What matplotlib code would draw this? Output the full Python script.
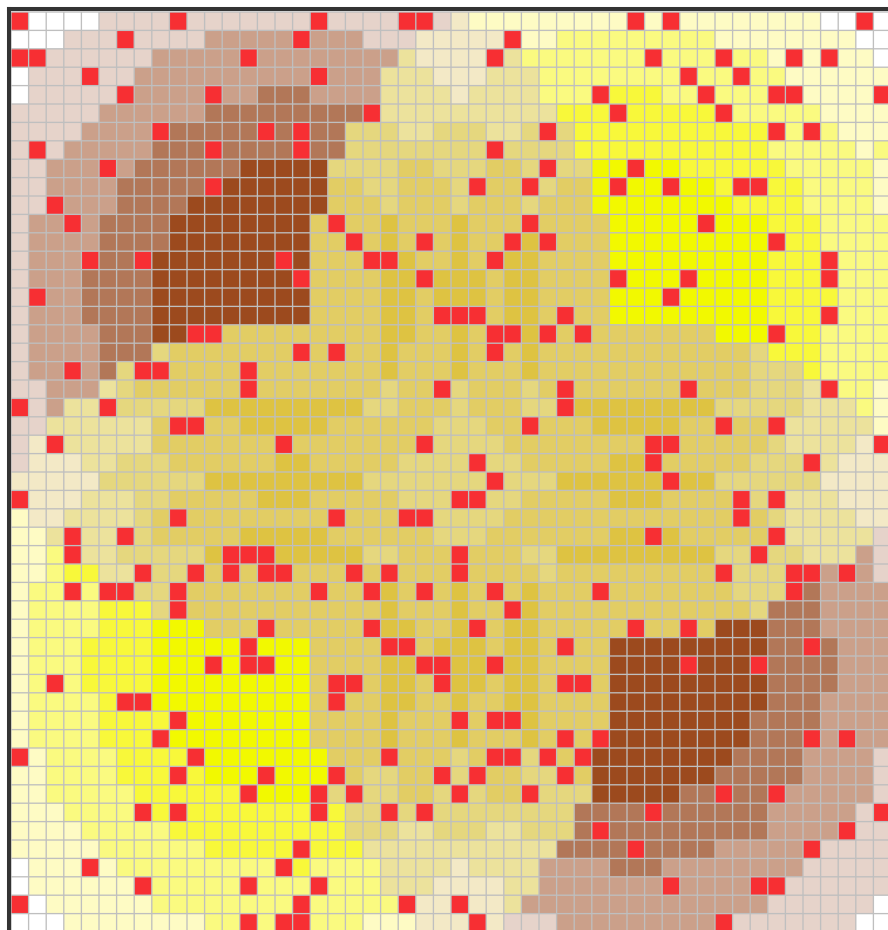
import numpy as np
import matplotlib
matplotlib.use("Agg")
import matplotlib.pyplot as plt
from matplotlib.colors import ListedColormap, BoundaryNorm

# level codes, one per cell
codes = "WpmnBaebcdfghiR"
colors = ["#FFFFFF", "#E6D3CA", "#CBA08A", "#B27758", "#9C4A1E",
          "#FEFBC4", "#F3E9C6", "#FAFA80", "#F8F83A", "#F2F900",
          "#ECE29C", "#E5D77E", "#E2CD64", "#DEC342", "#F72F33"]

rows = [
"R WWWW pppp R ppppppp R pppp RR p e aaaaaaaaa R a R aaaaaaaa WW R W",
"WWW ppp R pppp mmmmm R mmm ppp eeeee R aa bbbbbbbbb aaaaaaaa WW",
"RR pppppp mmmmm R mmmmmmmm f eeee R f bbbbbbb R bbb R bb a R a R aa W",
"W ppp R pp mmmmmmmmmm R mmm fff eee fff bbbbbbbb R bb R bb aaaaaa",
"W ppppp R mmmm R mm nnn mmmm ffff e ffff bbb R ccc bb R bbb RR aaaa R",
"ppppp mmmmmm nnnnnn nnn R ffffffffff ccc R ccccc R bbbbb aaaa",
"pppp mmmm R nnnnn R n R nn ggg ff ggg ff g R g ccccccccccc R b R b aaa",
"p R p mmmmm nnn R nnnn R nn gggggggg R gggg ccccccccccc bbbbb a b",
"pp mmm R m nnnnnn BBBB B gggg hh ggg hh g R gg dd R dd ccccc c bbbbb a",
"pp mmmm nnnnn R BBBBB B hh gg hhh g R hh R g hh d R dd R dd c RR cc bbbb a",
"pp R mmm nnnn BBBBBBB B hhh g hhh g hhh g hhh d ddddddd cccc bbbb a",
"p mm R m nnnn BBBBBBBB h R hh i hhh i hhh R hhh h ddddd R ddd ccc bbbb",
"p mmmm nnnn BBBBBBBB hh R h i h R h i hh R i R hhh ddddddddd R cc bbbb",
"p mmm R nn R BBBBBBB R B hhh RR i hh i h R ii hhhh ddddddddd ccc R bbb",
"p mmm nnnn BBBBBBBB R hhhh ii R iii h ii hhhh R ddd R dddd ccc R bbb",
"p R mm nnnn BBBBBBBBB hhhh ii h iii h ii hhhh ddd R ddddd ccc c bbb",
"p mmm nnnn BBBBBBBBB hhhh ii h RRR h ii h R hh ddddddddd ccc R bbb",
"p mmmm nnn BB RR hhhhhhhhh ii hh i h RR i R h R hhhhhhh ddd R cc bbbb",
"p mmmm nnn g hhhhhhh R h R hh i hhh i h R h i hhhhhhhhhhhh g ccc bbbb",
"p mm R m n g RR hhhh R hhhhhhh i hhh i hhh i hhhhhhhhhhhh ggg c bbbb",
"pp mmm f g hhhhhh R hhhhhhh g hh R g hhh g h R hhhhhh R hhh ggg f R bb a",
"R p m ff R ggggg iiiiiiiii gg hhh g hhh gg R iiiiiiii ggggg fff b a",
"pp ffffff h RR hh iiiii hhhhhh ggg hh R hhh iiiii hh R hh R fffff a",
"p e R fffff hhhhhhh R hhhhhhh R gggg hhhhhhhh RR hhhhh g ffff e R",
"p eee ff ggg hhhhhh ii hhhhh gggg R gg hhhhh ii R hhhhh ggg R f eee",
"eeeee gggggg iiiiiiiii ggggggg R ggg iiiiii R ii gggggg eeee",
"R eee fff gg hhhhh iii hhhhh ggg RR gg hhhhh iii hhhh R g R fff eee",
"a ee ffff g h R hhhhhhhh R hhh RR gggg hhhhhhhhhhhhh R h g ffff ee",
"aa f R ff R g hhhhh iiiii hhhhhh ggg hhhhhhh ii R i hhhhh R fffff p",
"aa b R ff ggggg i RRR iiiii gg hhh R hhh gg iiiiiiiii gg R gg fff m p",
"aa b cc ff R gg R h R h RR hhh R h R hhh R hhhh g hhhhhhhhh R ggg RR m R m p",
"a bb R b RR gg R hhhhhhh R hh R i h R h i h R h i hhh R hhhhhhh ggg R n mmmm",
"a bbbb ccc g R hhhhhhhhhhh i hhh i hh R i hhhhhhhhhhhh g nnn mmmm",
"a bbbb ccc ddd hhh R hhhhh R ii hh i R h ii hhhhh R hh R h BBB nnn mmmm",
"a bbb cccc ddddd R ddd hhhh RR h iii h ii h R hh BBBBBBBBB nn R n mmm",
"a bbb cccc ddd R d RR dd hhhh ii RR ii R ii hhhh BBBB R BBB R nnnn mmm",
"a b R b cccc ddddddddd h RR h ii h R ii h ii h RR h BBBBBBBBB nnnn mmm",
"a bbbb c RR ddddddddd h R hh ii hh i hh ii hhhh BBBBBBBBB nnn mmmm",
"a bbbb cccc R ddddddd hhhh i hhh R h RR i hhhh BBBBBBBB nnnn mmmm",
"a bbbb ccc R dddddddd hhhh i hhh i hhh i h R h R BBBBBBBB nnn R m R mm",
"R a bbbb cccc R ddddddd hhh R hhh g h RR g R h R BBBBBBBB nnnn mmmm p",
"aa bbbb ccc R c ddd R ddd R h gg hh R g R hh gg R h BBBBBBB nnnnn mmmm p",
"aa bbbbb cccccc R ddd R g R gg hh g R g hh R ggg BBBBB nn R nn R mmmmm p",
"aaa bbbb R c R ccccccc R c gg R g R gggggggg nnnn R nnnnnn mmmmm p R",
"aaaa bbbbb cccccccccc ggg ff ggg ff ggg n R nnnnnnnnn mmmm R pp",
"aaaaa bbbbbb ccccc R ccc fffffffffff nnnn R nnnn mmmmm R pppp",
"W aaa R a bbbbbbbbb R c bbbb ffff e ffff mmmm nnn mmmmmmmm ppppp",
"W aaaaaa R bbbbb R bbb R bbb fff eeee ff mmmmmmm R mmmm RR pppppp",
"R W aaaaaa bbbbbbbb R bbbbb R ee R ee f mmmmmmmmmmmmmm pppppp W",
"WWW aaaaaaaa bb R b RR bbb aaa eee R e ppp mmmmmmmmm R ppppppp WW",
]

clean = [r.replace(" ", "") for r in rows]
bad = [(i, len(r)) for i, r in enumerate(clean) if len(r) != 50]
assert not bad, bad
grid = np.array([[codes.index(c) for c in r] for r in clean])

W, H = 888, 930
fig = plt.figure(figsize=(W / 100, H / 100), dpi=100, facecolor="white")

# pixel geometry of the frame and cells
left, top = 9.0, 9.5
cell_w, cell_h = 17.6, 18.4
pad_x, pad_y = 2.0 / cell_w, 2.5 / cell_h
ax_w = (50 + pad_x) * cell_w
ax_h = (50 + pad_y) * cell_h
ax = fig.add_axes([left / W, 1 - (top + ax_h) / H, ax_w / W, ax_h / H])

cmap = ListedColormap(colors)
norm = BoundaryNorm(np.arange(len(colors) + 1) - 0.5, cmap.N)
ax.pcolormesh(np.arange(51), np.arange(51), grid, cmap=cmap, norm=norm,
              edgecolors="none", antialiased=False, zorder=1)
vl = ax.vlines(np.arange(51), 0, 50, colors="#BFBFBF", linewidth=0.95, zorder=2)
hl = ax.hlines(np.arange(51), 0, 50, colors="#BFBFBF", linewidth=0.95, zorder=2)
vl.set_snap(False)
hl.set_snap(False)
ax.set_xlim(-pad_x, 50)
ax.set_ylim(50, -pad_y)
ax.set_xticks([])
ax.set_yticks([])
for side in ["left", "top"]:
    ax.spines[side].set_linewidth(2.9)
    ax.spines[side].set_color("#333333")
    ax.spines[side].set_zorder(3)
for side in ["right", "bottom"]:
    ax.spines[side].set_visible(False)

fig.savefig("out.png", dpi=100, facecolor="white")
